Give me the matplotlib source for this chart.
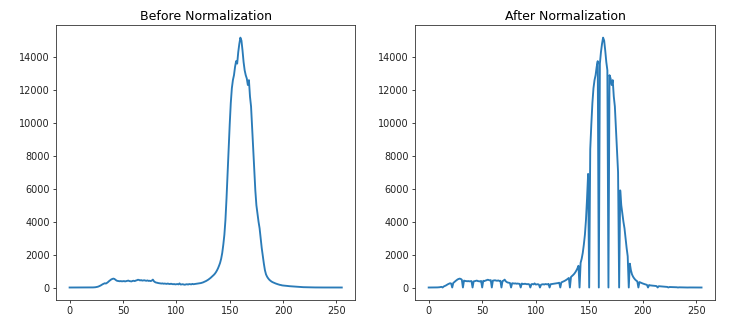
import numpy as np
import matplotlib
matplotlib.use("Agg")
import matplotlib.pyplot as plt

# grey-level histograms, one count per bin 0..255
bins = np.arange(256)

hist_before = [
    0, 0, 0, 0, 0, 0, 0, 0, 0, 0, 0, 0, 0, 0, 0, 0,
    0, 0, 0, 0, 2, 4, 6, 10, 15, 25, 40, 60, 90, 120, 160, 200,
    230, 260, 240, 280, 330, 390, 440, 490, 520, 540, 520, 470, 420, 400, 390, 380,
    390, 375, 380, 390, 370, 385, 400, 420, 390, 380, 370, 400, 410, 390, 420, 440,
    470, 460, 430, 450, 420, 430, 440, 420, 410, 430, 400, 410, 390, 420, 480, 380,
    330, 300, 290, 270, 260, 250, 240, 250, 230, 240, 230, 220, 240, 220, 210, 230,
    210, 200, 210, 190, 200, 210, 190, 250, 180, 190, 200, 180, 170, 190, 200, 180,
    210, 200, 190, 220, 200, 210, 220, 230, 240, 250, 260, 270, 290, 310, 340, 370,
    400, 440, 480, 530, 580, 640, 700, 760, 830, 920, 1030, 1160, 1320, 1500, 1750, 2100,
    2600, 3200, 4100, 5400, 6900, 8400, 9900, 11200, 12100, 12600, 12900, 13400, 13750, 13600, 14300, 14800,
    15180, 15000, 14400, 13700, 13200, 12900, 12700, 12300, 12600, 11600, 11000, 9700, 8300, 7000, 5900, 5000,
    4500, 4000, 3600, 3000, 2400, 1900, 1450, 1050, 800, 660, 560, 480, 420, 370, 330, 300,
    270, 245, 220, 200, 180, 160, 150, 130, 120, 115, 110, 100, 95, 85, 80, 75,
    70, 60, 55, 50, 45, 40, 35, 30, 28, 25, 22, 20, 18, 16, 14, 12,
    10, 9, 8, 7, 6, 5, 4, 3, 3, 2, 2, 1, 1, 1, 1, 1,
    1, 1, 1, 0, 0, 0, 0, 0, 0, 0, 0, 0, 0, 0, 0, 0,
]

hist_after = [
    0, 0, 0, 0, 0, 0, 2, 4, 6, 10, 15, 25, 40, 0, 60, 90,
    120, 160, 200, 230, 260, 240, 0, 280, 330, 390, 440, 490, 520, 540, 520, 470,
    0, 420, 400, 390, 380, 390, 375, 380, 390, 0, 370, 385, 400, 420, 390, 380,
    370, 400, 0, 410, 390, 420, 440, 470, 460, 430, 450, 0, 420, 430, 440, 420,
    410, 430, 400, 410, 0, 390, 420, 480, 380, 330, 300, 290, 270, 0, 260, 250,
    240, 250, 230, 240, 230, 220, 0, 240, 220, 210, 230, 210, 200, 210, 190, 0,
    200, 210, 190, 250, 180, 190, 200, 180, 0, 170, 190, 200, 180, 210, 200, 190,
    220, 0, 200, 210, 220, 230, 240, 250, 260, 270, 290, 0, 310, 340, 370, 400,
    440, 480, 530, 580, 0, 640, 700, 760, 830, 920, 1030, 1160, 1320, 0, 1500, 1750,
    2100, 2600, 3200, 4100, 5400, 6900, 0, 8400, 9900, 11200, 12100, 12600, 12900, 13400, 13750, 0,
    13600, 14300, 14800, 15180, 15000, 14400, 13700, 13200, 0, 12900, 12700, 12300, 12600, 11600, 11000, 9700,
    8300, 7000, 0, 5900, 5000, 4500, 4000, 3600, 3000, 2400, 1900, 0, 1450, 1050, 800, 660,
    560, 480, 420, 370, 0, 330, 300, 270, 245, 220, 200, 180, 160, 0, 150, 130,
    120, 115, 110, 100, 95, 85, 0, 80, 75, 70, 60, 55, 50, 45, 40, 35,
    0, 30, 28, 25, 22, 20, 18, 16, 14, 0, 12, 10, 9, 8, 7, 6,
    5, 4, 0, 3, 3, 2, 2, 1, 1, 1, 1, 0, 1, 0, 0, 0,
]

titles = ["Before Normalization", "After Normalization"]

fig = plt.figure(figsize=(7.32, 3.23), dpi=100)
ax1 = fig.add_axes([0.0765, 0.0712, 0.409, 0.851])
ax2 = fig.add_axes([0.567, 0.0712, 0.410, 0.851])

for ax, hist, title in zip([ax1, ax2], [hist_before, hist_after], titles):
    ax.plot(bins, hist, color="#2a7bb8", linewidth=1.35)
    ax.set_title(title, fontsize=9, pad=4)
    ax.set_xticks([0, 50, 100, 150, 200, 250])
    ax.set_yticks(range(0, 16000, 2000))
    ax.tick_params(labelsize=7, length=2.5, width=0.6, pad=2, colors="#222222")
    for sp in ax.spines.values():
        sp.set_linewidth(0.6)
        sp.set_color("#333333")

fig.savefig("out.png", dpi=100)
